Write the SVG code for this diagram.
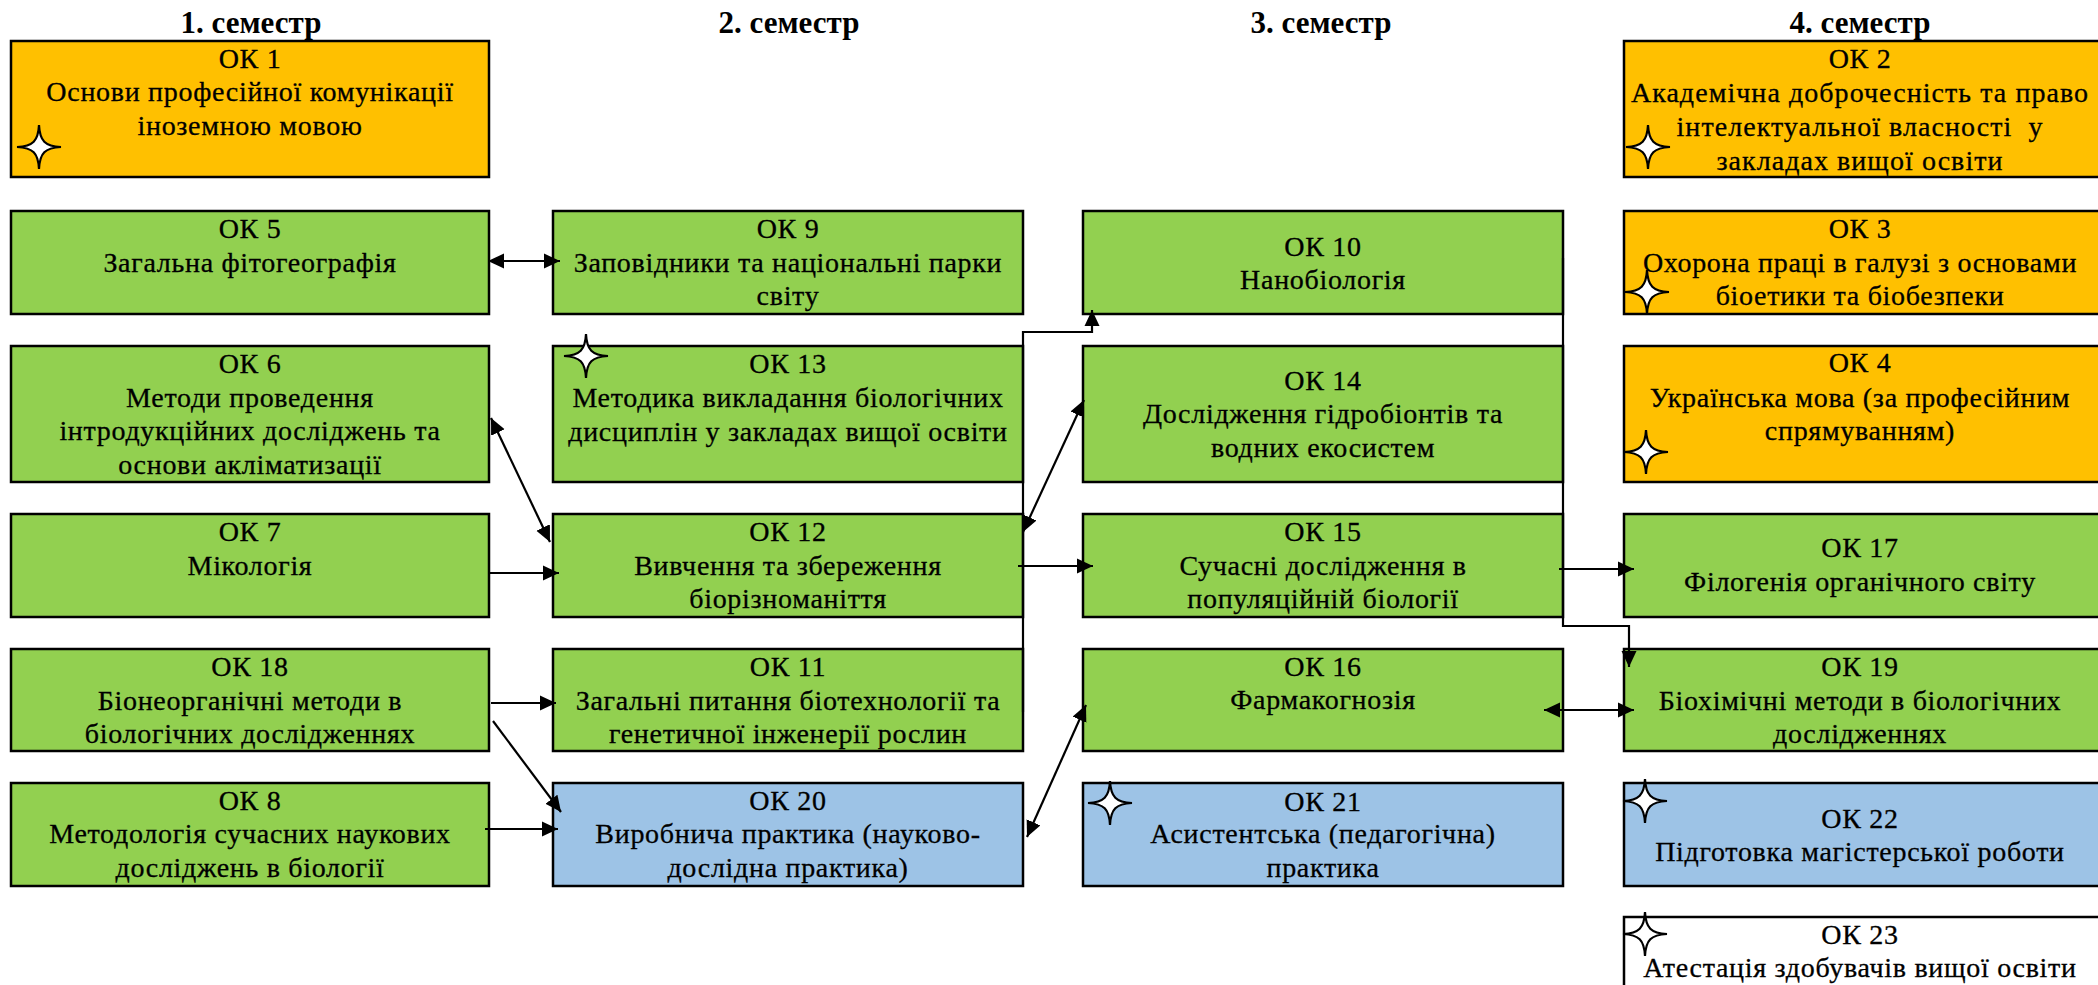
<svg xmlns="http://www.w3.org/2000/svg" xmlns:xlink="http://www.w3.org/1999/xlink" width="2098" height="985" viewBox="0 0 2098 985">
<style>
.box{stroke:#000;stroke-width:2.5}
.o{fill:#FFC000}
.g{fill:#92D050}
.b{fill:#9DC3E6}
.w{fill:#FFFFFF}
text{font-family:"Liberation Serif","Times New Roman",serif;font-size:28px;letter-spacing:0.7px;fill:#000;stroke:#000;stroke-width:0.3px;text-anchor:middle}
text.h{font-weight:700;font-size:31px;letter-spacing:0;stroke:none}
text.s2{letter-spacing:1.05px}
.c{fill:none;stroke:#000;stroke-width:2.2}
.star{fill:#fff;stroke:#000;stroke-width:2.2}
</style>
<defs>
<marker id="ah" markerUnits="userSpaceOnUse" markerWidth="17" markerHeight="16" refX="16" refY="7.5" orient="auto-start-reverse" viewBox="0 0 17 15">
<path d="M0,0 L16,7.5 L0,15 Z" fill="#000"/>
</marker>
<path id="st" class="star" d="M0,-22 C0.8,-6 6,-0.8 22,0 C6,0.8 0.8,6 0,22 C-0.8,6 -6,0.8 -22,0 C-6,-0.8 -0.8,-6 0,-22 Z"/>
</defs>
<rect width="2098" height="985" fill="#fff"/>
<g id="headers">
<text class="h" x="251" y="33">1. семестр</text>
<text class="h" x="789" y="33">2. семестр</text>
<text class="h" x="1321" y="33">3. семестр</text>
<text class="h" x="1860" y="33">4. семестр</text>
</g>
<g id="ok1"><rect class="box o" x="11" y="41" width="478" height="136"/>
<text x="250" y="68">ОК 1</text><text x="250" y="101">Основи професійної комунікації</text><text x="250" y="135">іноземною мовою</text>
<use xlink:href="#st" x="39" y="147"/></g>
<g id="ok5"><rect class="box g" x="11" y="211" width="478" height="103"/>
<text x="250" y="238">ОК 5</text><text x="250" y="272">Загальна фітогеографія</text></g>
<g id="ok6"><rect class="box g" x="11" y="346" width="478" height="136"/>
<text x="250" y="373">ОК 6</text><text x="250" y="407">Методи проведення</text><text x="250" y="440">інтродукційних досліджень та</text><text x="250" y="474">основи акліматизації</text></g>
<g id="ok7"><rect class="box g" x="11" y="514" width="478" height="103"/>
<text x="250" y="541">ОК 7</text><text x="250" y="575">Мікологія</text></g>
<g id="ok18"><rect class="box g" x="11" y="649" width="478" height="102"/>
<text x="250" y="676">ОК 18</text><text x="250" y="710">Біонеорганічні методи в</text><text x="250" y="743">біологічних дослідженнях</text></g>
<g id="ok8"><rect class="box g" x="11" y="783" width="478" height="103"/>
<text x="250" y="810">ОК 8</text><text x="250" y="843">Методологія сучасних наукових</text><text x="250" y="877">досліджень в біології</text></g>

<g id="ok9"><rect class="box g" x="553" y="211" width="470" height="103"/>
<text x="788" y="238">ОК 9</text><text x="788" y="272">Заповідники та національні парки</text><text x="788" y="305">світу</text></g>
<g id="ok13"><rect class="box g" x="553" y="346" width="470" height="136"/>
<text x="788" y="373">ОК 13</text><text x="788" y="407">Методика викладання біологічних</text><text x="788" y="441">дисциплін у закладах вищої освіти</text>
<use xlink:href="#st" x="586" y="356"/></g>
<g id="ok12"><rect class="box g" x="553" y="514" width="470" height="103"/>
<text x="788" y="541">ОК 12</text><text x="788" y="575">Вивчення та збереження</text><text x="788" y="608">біорізноманіття</text></g>
<g id="ok11"><rect class="box g" x="553" y="649" width="470" height="102"/>
<text x="788" y="676">ОК 11</text><text x="788" y="710">Загальні питання біотехнології та</text><text x="788" y="743">генетичної інженерії рослин</text></g>
<g id="ok20"><rect class="box b" x="553" y="783" width="470" height="103"/>
<text x="788" y="810">ОК 20</text><text x="788" y="843">Виробнича практика (науково-</text><text x="788" y="877">дослідна практика)</text></g>

<g id="ok10"><rect class="box g" x="1083" y="211" width="480" height="103"/>
<text x="1323" y="256">ОК 10</text><text x="1323" y="289">Нанобіологія</text></g>
<g id="ok14"><rect class="box g" x="1083" y="346" width="480" height="136"/>
<text x="1323" y="390">ОК 14</text><text x="1323" y="423">Дослідження гідробіонтів та</text><text x="1323" y="457">водних екосистем</text></g>
<g id="ok15"><rect class="box g" x="1083" y="514" width="480" height="103"/>
<text x="1323" y="541">ОК 15</text><text x="1323" y="575">Сучасні дослідження в</text><text x="1323" y="608">популяційній біології</text></g>
<g id="ok16"><rect class="box g" x="1083" y="649" width="480" height="102"/>
<text x="1323" y="676">ОК 16</text><text x="1323" y="709">Фармакогнозія</text></g>
<g id="ok21"><rect class="box b" x="1083" y="783" width="480" height="103"/>
<text x="1323" y="811">ОК 21</text><text x="1323" y="843">Асистентська (педагогічна)</text><text x="1323" y="877">практика</text>
<use xlink:href="#st" x="1110" y="803"/></g>

<g id="ok2"><rect class="box o" x="1624" y="41" width="480" height="136"/>
<text x="1860" y="68">ОК 2</text><text class="s2" x="1860" y="102">Академічна доброчесність та право</text><text class="s2" x="1860" y="136">інтелектуальної власності&#160; у</text><text class="s2" x="1860" y="170">закладах вищої освіти</text>
<use xlink:href="#st" x="1648" y="147"/></g>
<g id="ok3"><rect class="box o" x="1624" y="211" width="480" height="103"/>
<text x="1860" y="238">ОК 3</text><text x="1860" y="272">Охорона праці в галузі з основами</text><text x="1860" y="305">біоетики та біобезпеки</text>
<use xlink:href="#st" x="1647" y="292"/></g>
<g id="ok4"><rect class="box o" x="1624" y="346" width="480" height="136"/>
<text x="1860" y="372">ОК 4</text><text x="1860" y="407">Українська мова (за професійним</text><text x="1860" y="440">спрямуванням)</text>
<use xlink:href="#st" x="1646" y="452"/></g>
<g id="ok17"><rect class="box g" x="1624" y="514" width="480" height="103"/>
<text x="1860" y="557">ОК 17</text><text x="1860" y="591">Філогенія органічного світу</text></g>
<g id="ok19"><rect class="box g" x="1624" y="649" width="480" height="102"/>
<text x="1860" y="676">ОК 19</text><text x="1860" y="710">Біохімічні методи в біологічних</text><text x="1860" y="743">дослідженнях</text></g>
<g id="ok22"><rect class="box b" x="1624" y="783" width="480" height="103"/>
<text x="1860" y="828">ОК 22</text><text x="1860" y="861">Підготовка магістерської роботи</text>
<use xlink:href="#st" x="1645" y="801"/></g>
<g id="ok23"><rect class="box w" x="1624" y="917" width="480" height="100"/>
<text x="1860" y="944">ОК 23</text><text x="1860" y="977">Атестація здобувачів вищої освіти</text>
<use xlink:href="#st" x="1645" y="934"/></g>

<g id="connectors">
<path class="c" d="M488,261 L560,261" marker-start="url(#ah)" marker-end="url(#ah)"/>
<path class="c" d="M491,418 L550,542" marker-start="url(#ah)" marker-end="url(#ah)"/>
<path class="c" d="M488,573 L559,573" marker-end="url(#ah)"/>
<path class="c" d="M491,703 L556,703" marker-end="url(#ah)"/>
<path class="c" d="M493,721 L561,812" marker-end="url(#ah)"/>
<path class="c" d="M485,829 L558,829" marker-end="url(#ah)"/>
<path class="c" d="M1023,532 L1084,400" marker-start="url(#ah)" marker-end="url(#ah)"/>
<path class="c" d="M1023,712 V332 H1092 V310" marker-end="url(#ah)"/>
<path class="c" d="M1018,566 L1093,566" marker-end="url(#ah)"/>
<path class="c" d="M1027,837 L1086,705" marker-start="url(#ah)" marker-end="url(#ah)"/>
<path class="c" d="M1563,258 V626 H1629 V667" marker-end="url(#ah)"/>
<path class="c" d="M1559,569 L1634,569" marker-end="url(#ah)"/>
<path class="c" d="M1544,710 L1634,710" marker-start="url(#ah)" marker-end="url(#ah)"/>
</g>
</svg>
